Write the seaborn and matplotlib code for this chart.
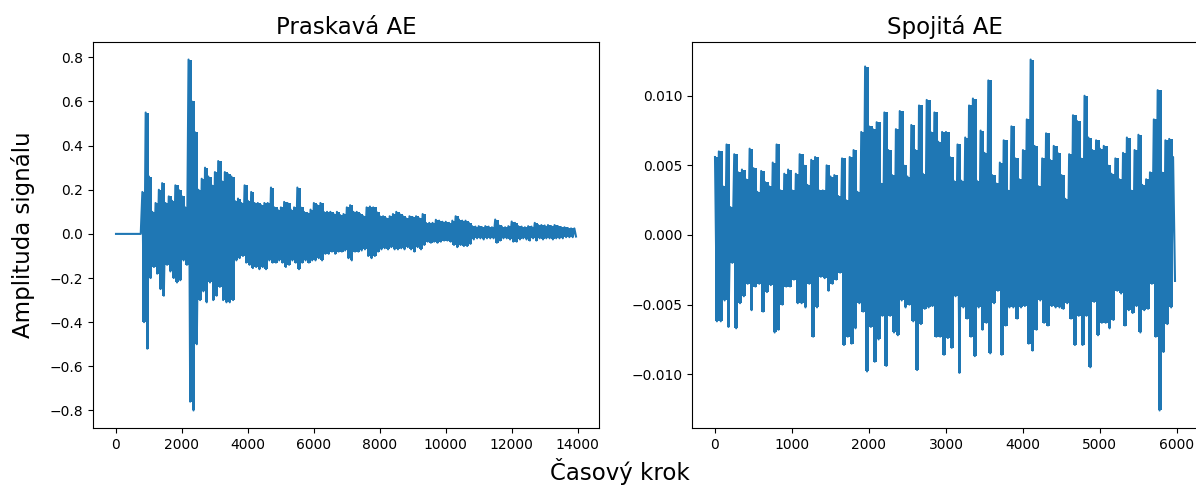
import numpy as np
import pandas as pd
import matplotlib
matplotlib.use("Agg")
import matplotlib.pyplot as plt
import seaborn as sns

# ---- Praskavá AE (burst AE): upper / lower envelope every 100 time steps ----
prask_upper = [
    0, 0, 0, 0, 0, 0, 0, 0,
    0.19, 0.55, 0.26, 0.10, 0.14, 0.20, 0.23, 0.14, 0.17, 0.15, 0.22, 0.20,
    0.17, 0.12, 0.79, 0.60, 0.46, 0.20, 0.25, 0.30, 0.26, 0.22,
    0.28, 0.33, 0.24, 0.28, 0.27, 0.26, 0.15, 0.16, 0.14, 0.22,
    0.15, 0.19, 0.14, 0.14, 0.13, 0.14, 0.14, 0.21, 0.12, 0.11,
    0.12, 0.145, 0.14, 0.11, 0.12, 0.21, 0.12, 0.10, 0.095, 0.11,
    0.14, 0.13, 0.14, 0.10, 0.10, 0.10, 0.09, 0.10, 0.085, 0.09,
    0.12, 0.13, 0.10, 0.10, 0.09, 0.08, 0.12, 0.124, 0.12, 0.10,
    0.08, 0.08, 0.07, 0.08, 0.09, 0.10, 0.09, 0.08, 0.07, 0.08,
    0.075, 0.08, 0.07, 0.09, 0.05, 0.05, 0.05, 0.064, 0.06, 0.055,
    0.055, 0.05, 0.06, 0.08, 0.065, 0.06, 0.06, 0.05, 0.035, 0.033,
    0.035, 0.03, 0.035, 0.033, 0.03, 0.065, 0.04, 0.033, 0.03, 0.035,
    0.056, 0.05, 0.035, 0.033, 0.03, 0.035, 0.033, 0.05, 0.04, 0.04,
    0.038, 0.04, 0.035, 0.04, 0.035, 0.03, 0.03, 0.027, 0.025, 0.025,
]
prask_lower = [
    0, 0, 0, 0, 0, 0, 0, 0,
    -0.40, -0.52, -0.20, -0.15, -0.18, -0.25, -0.28, -0.14, -0.17, -0.20, -0.22, -0.21,
    -0.12, -0.14, -0.76, -0.80, -0.50, -0.30, -0.26, -0.31, -0.22, -0.30,
    -0.28, -0.24, -0.30, -0.31, -0.31, -0.30, -0.12, -0.11, -0.10, -0.13,
    -0.14, -0.155, -0.15, -0.16, -0.15, -0.16, -0.12, -0.13, -0.13, -0.12,
    -0.13, -0.15, -0.14, -0.12, -0.13, -0.16, -0.13, -0.12, -0.13, -0.12,
    -0.12, -0.11, -0.12, -0.09, -0.09, -0.08, -0.09, -0.08, -0.08, -0.075,
    -0.11, -0.12, -0.08, -0.08, -0.075, -0.07, -0.10, -0.11, -0.10, -0.08,
    -0.07, -0.065, -0.07, -0.06, -0.07, -0.07, -0.065, -0.07, -0.06, -0.07,
    -0.08, -0.06, -0.07, -0.05, -0.035, -0.04, -0.035, -0.04, -0.035, -0.03,
    -0.03, -0.035, -0.05, -0.06, -0.05, -0.055, -0.055, -0.045, -0.025, -0.02,
    -0.02, -0.025, -0.02, -0.02, -0.02, -0.04, -0.03, -0.02, -0.02, -0.025,
    -0.035, -0.035, -0.025, -0.02, -0.025, -0.03, -0.02, -0.03, -0.02, -0.025,
    -0.02, -0.02, -0.025, -0.02, -0.02, -0.02, -0.015, -0.015, -0.015, -0.012,
]

# ---- Spojitá AE (continuous AE): upper / lower envelope every 50 steps (x1e-3) ----
spoj_upper = [
    5.6, 6.0, 3.5, 6.5, 2.0, 5.8, 4.5, 4.7, 4.0, 6.2,
    4.8, 3.1, 4.6, 3.8, 3.5, 5.2, 6.5, 3.2, 4.4, 4.7,
    3.2, 4.4, 5.8, 5.0, 3.6, 5.4, 5.6, 3.2, 3.2, 5.0,
    4.2, 4.3, 2.8, 5.5, 2.5, 5.6, 6.1, 3.1, 7.4, 12.1,
    7.8, 7.6, 8.1, 3.7, 8.8, 6.1, 4.3, 7.6, 8.9, 5.0,
    4.2, 7.9, 6.1, 9.3, 4.4, 9.7, 7.4, 8.8, 6.7, 7.4,
    7.4, 5.6, 3.9, 6.5, 3.9, 7.0, 9.3, 9.8, 3.9, 7.5,
    5.9, 11.1, 4.3, 3.7, 5.2, 6.8, 3.2, 7.8, 5.5, 4.0,
    6.1, 8.3, 12.6, 6.4, 3.5, 5.5, 7.3, 5.4, 6.4, 5.9,
    4.3, 2.6, 5.8, 8.6, 8.2, 5.5, 10.0, 7.0, 6.1, 6.8,
    6.2, 6.4, 5.0, 4.4, 5.5, 4.0, 5.9, 7.0, 3.2, 6.1,
    7.2, 3.6, 4.0, 4.5, 8.3, 10.4, 4.5, 6.8, 6.9, 5.6,
]
spoj_lower = [
    -6.2, -6.2, -4.7, -6.6, -2.0, -6.7, -4.9, -4.4, -3.5, -5.4,
    -3.7, -3.5, -5.5, -4.1, -3.6, -7.0, -6.8, -5.0, -3.7, -3.7,
    -3.2, -4.9, -4.9, -5.2, -3.5, -7.3, -5.2, -3.0, -3.1, -4.0,
    -3.5, -3.2, -2.7, -7.9, -7.3, -7.8, -6.7, -4.9, -5.5, -9.8,
    -6.6, -9.1, -7.5, -5.8, -9.4, -5.8, -7.0, -7.2, -4.7, -5.2,
    -5.0, -6.2, -9.7, -6.4, -5.3, -5.2, -5.1, -7.3, -7.3, -8.6,
    -7.4, -8.1, -4.4, -9.9, -5.2, -6.0, -7.3, -8.7, -5.2, -6.8,
    -6.3, -8.5, -4.9, -4.0, -8.6, -6.5, -5.2, -5.2, -6.0, -5.2,
    -5.1, -7.8, -8.3, -6.8, -4.7, -6.3, -6.5, -5.1, -5.2, -5.2,
    -5.3, -4.9, -6.0, -7.9, -5.8, -7.9, -5.8, -9.5, -4.8, -7.2,
    -6.3, -6.3, -6.7, -6.1, -4.0, -4.2, -6.5, -5.4, -5.6, -5.1,
    -7.0, -5.4, -5.3, -3.5, -7.3, -12.6, -8.4, -6.4, -5.2, -3.3,
]

titles = ["Praskavá AE", "Spojitá AE"]
ylabel = "Amplituda signálu"
xlabel = "Časový krok"
BLUE = "#1f77b4"


def draw_signal(ax, upper, lower, step):
    n = len(upper)
    ts = np.arange(n) * step
    # zig-zag signal: peak at start of each window, trough half a window later
    vals = np.empty(2 * n)
    vals[0::2] = upper
    vals[1::2] = lower
    tz = np.arange(2 * n) * (step / 2)
    df = pd.DataFrame({"t": tz, "v": vals})
    sns.lineplot(data=df, x="t", y="v", ax=ax, estimator=None, sort=False,
                 color=BLUE, linewidth=1.5)
    # dense oscillation band between the envelopes
    ax.fill_between(ts, lower, upper, step="post", color=BLUE, linewidth=0)


plt.rcParams["font.family"] = ["DejaVu Sans"]
W, H = 1196, 486
fig = plt.figure(figsize=(W / 100, H / 100), dpi=100)
ax1 = fig.add_axes([93 / W, 1 - 428 / H, 506 / W, 386 / H])
ax2 = fig.add_axes([692 / W, 1 - 428 / H, 506 / W, 386 / H])

draw_signal(ax1, np.array(prask_upper), np.array(prask_lower), 100)
draw_signal(ax2, np.array(spoj_upper) * 1e-3, np.array(spoj_lower) * 1e-3, 50)

for ax, title in [(ax1, titles[0]), (ax2, titles[1])]:
    ax.set_title(title, fontsize=16.5)
    ax.set_xlabel("")
    ax.set_ylabel("")
    ax.tick_params(labelsize=10)

ax1.set_ylabel(ylabel, fontsize=16.5)
ax1.yaxis.set_label_coords(-0.115, 0.5)
fig.supxlabel(xlabel, fontsize=16.5, x=620 / W, y=0.002)

fig.savefig("out.png", dpi=100)
